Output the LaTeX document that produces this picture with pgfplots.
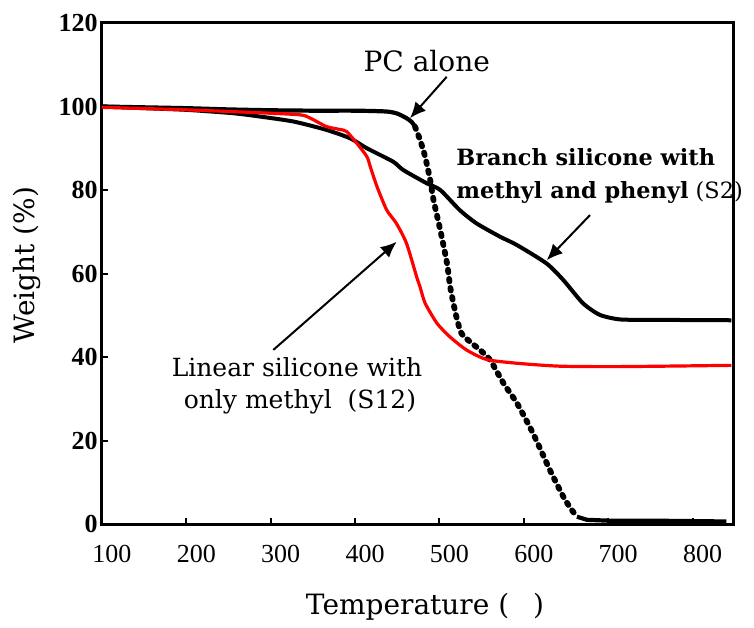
\documentclass[border=0pt]{standalone}
\usepackage{fontspec}
\setmainfont{DejaVu Serif}
\newfontfamily\tickfont{Liberation Serif}
\usepackage{pgfplots}
\pgfplotsset{compat=1.18}
\usetikzlibrary{arrows.meta}
\begin{document}
\begin{tikzpicture}
\useasboundingbox (-51pt,-51.5pt) rectangle (326pt,262pt);
\begin{axis}[
 scale only axis, width=315.5pt, height=250.5pt,
 xmin=100, xmax=848, ymin=0, ymax=120,
 xtick={100,200,...,800}, ytick={0,20,...,120},
 tick align=inside, xtick pos=left, ytick pos=left,
 major tick length=3pt,
 axis line style={line width=1.5pt},
 every tick/.style={line width=1pt, black},
 /pgf/number format/assume math mode=true,
 xticklabel style={font=\tickfont\fontsize{13}{13}\selectfont, xshift=5pt, yshift=-7pt},
 yticklabel style={font=\tickfont\bfseries\fontsize{13}{13}\selectfont, inner sep=1pt, xshift=-1pt},
 xlabel={Temperature (\hspace{12pt})},
 ylabel={Weight (\%)},
 label style={font=\fontsize{14}{14}\selectfont},
 xlabel style={at={(axis description cs:0.512,-0.166)}, anchor=center},
 ylabel style={at={(axis description cs:-0.119,0.517)}, anchor=center},
 clip=false,
]
% PC alone
\addplot[black, line width=2.1pt, line join=round, smooth, tension=0.4] coordinates {
(100,100) (150,99.8) (200,99.6) (250,99.3) (300,99.1) (350,99.0) (400,99.0) (437,98.8) (450,98.3) (461,97.2) (467,96.3) (471,95.2)
};
\addplot[black, line width=2.9pt, line cap=round, dash pattern=on 1.3pt off 3.3pt, smooth, tension=0.4] coordinates {
(471,95.2) (477,92) (483,88) (489,82.4) (493,77.6) (501,70.4) (509,62.4) (513,56.5) (520,49.7) (526,45.7) (536,43.7) (548,41.7) (560,39.3) (576,33.7) (592,28.9) (611,21.7) (631,12.9) (647,6.5) (656,3.6) (663,1.75)
};
\addplot[black, line width=2.1pt, line join=round] coordinates {
(663,1.75) (675,1.0) (700,0.8) (750,0.8) (800,0.7) (840,0.6)
};
% S2 branch
\addplot[black, line width=2pt, line join=round, smooth, tension=0.4] coordinates {
(100,100) (150,99.6) (200,99.2) (255,98.4) (287,97.6) (327,96.4) (366,94.4) (394,92.4) (414,90.0) (445,86.8) (457,84.8) (485,81.6) (501,80.0) (524,75.2) (544,72.0) (572,68.8) (592,66.8) (627,62.4) (647,58.4) (670,52.9) (690,50.1) (714,49.0) (753,48.9) (846,48.8)
};
% S12 linear
\addplot[red, line width=1.6pt, line join=round, smooth, tension=0.4] coordinates {
(100,99.8) (200,99.2) (287,98.5) (335,98.0) (347,97.2) (366,95.2) (382,94.5) (390,94.0) (402,91.2) (414,88) (418,85.6) (426,80.8) (437.5,75.2) (449,72.0) (461,67.2) (473,59.2) (477,56.8) (483,52.9) (497,48.1) (512,44.9) (532,41.7) (556,39.4) (592,38.5) (643,37.8) (714,37.7) (846,38.0)
};
% annotations
\node[anchor=base, font=\fontsize{14}{14}\selectfont] at (axis cs:485,108.3) {PC alone};
\draw[line width=1pt, -{Latex[length=8pt,width=7pt]}] (axis cs:508.6,107.1) -- (axis cs:465.1,97.2);
\node[anchor=base west, inner sep=0pt, font=\bfseries\fontsize{11.2}{11.2}\selectfont] at (axis cs:519.6,85.8) {Branch silicone with};
\node[anchor=base west, inner sep=0pt, font=\fontsize{11.2}{11.2}\selectfont] at (axis cs:519.6,78.0) {\textbf{methyl and phenyl} (S2)};
\draw[line width=1pt, -{Latex[length=8pt,width=7pt]}] (axis cs:678.5,74.0) -- (axis cs:627.2,63.2);
\node[anchor=base, font=\fontsize{12.5}{12.5}\selectfont] at (axis cs:331.2,35.3) {Linear silicone with};
\node[anchor=base, font=\fontsize{12.5}{12.5}\selectfont] at (axis cs:334.7,27.7) {only methyl\ \ (S12)};
\draw[line width=1pt, -{Latex[length=8pt,width=7pt]}] (axis cs:303.1,41.7) -- (axis cs:449.3,67.6);
\end{axis}
\end{tikzpicture}
\end{document}
